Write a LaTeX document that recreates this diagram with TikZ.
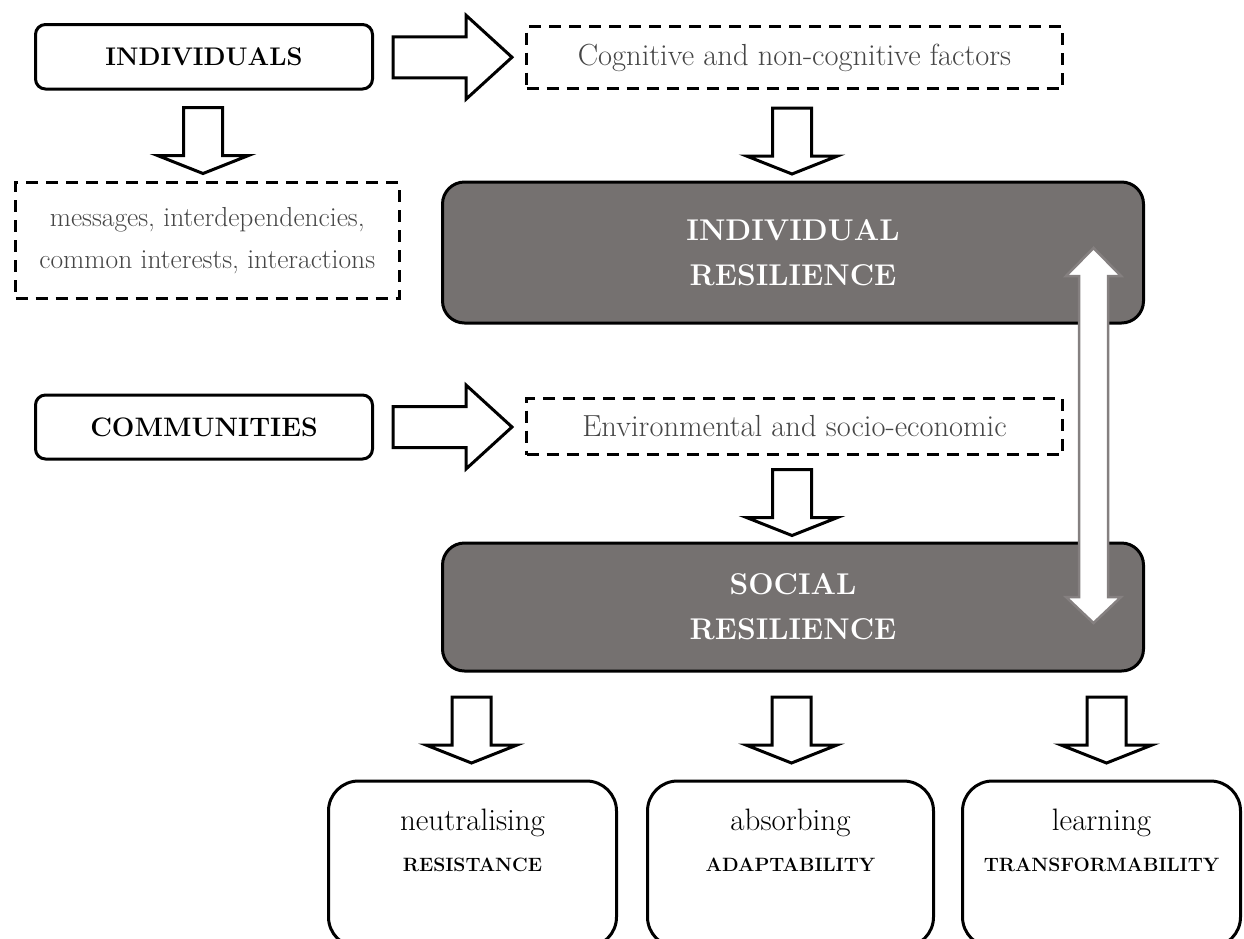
\documentclass[tikz,border=0pt]{standalone}
\usepackage{fontspec}
\usetikzlibrary{calc}
\definecolor{darkbox}{HTML}{757170}
\definecolor{graytext}{HTML}{454545}
\definecolor{arrowgray}{HTML}{858080}
\tikzset{
  solidbox/.style={draw=black, line width=3pt, rounded corners=10pt, fill=white, inner sep=0pt, text=black},
  dashbox/.style={draw=black, line width=3pt, dash pattern=on 12pt off 8pt, fill=white, inner sep=0pt, text=graytext, align=center},
  darkrbox/.style={draw=black, line width=3pt, rounded corners=22pt, fill=darkbox, text=white, inner sep=0pt, align=center,
     font=\bfseries\fontsize{30}{45}\selectfont},
  outbox/.style={draw=black, line width=3pt, rounded corners=30pt, fill=white, inner sep=0pt},
  blockarrow/.style={draw=black, line width=3pt, fill=white, line join=miter},
  lowtext/.style={font=\fontsize{31}{34}\selectfont, inner sep=0pt},
  captext/.style={font=\bfseries\fontsize{19.3}{22}\selectfont, inner sep=0pt},
  downarr/.pic={\draw[blockarrow] (-19.5,0) -- (19.5,0) -- (19.5,48) -- (45.5,48) -- (0,66) -- (-45.5,48) -- (-19.5,48) -- cycle;},
  rightarr/.pic={\draw[blockarrow] (0,-20.5) -- (73,-20.5) -- (73,-42) -- (119,0) -- (73,42) -- (73,20.5) -- (0,20.5) -- cycle;}
}
\begin{document}
\begin{tikzpicture}[x=1pt,y=-1pt]
\useasboundingbox (0,0) rectangle (1244,938);
\fill[white] (0,0) rectangle (1244,938);

% top row
\node[solidbox, minimum width=337pt, minimum height=64.5pt, font=\bfseries\fontsize{25.5}{28}\selectfont] (ind) at (204,56.75) {INDIVIDUALS};
\node[dashbox, minimum width=536pt, minimum height=62pt, font=\fontsize{30.5}{34}\selectfont] (cog) at (794.5,57.5) {Cognitive and non-cognitive factors};
\pic at ($(ind.east)+(19,0.5)$) {rightarr};

% messages
\node[dashbox, minimum width=383.5pt, minimum height=115.5pt, font=\fontsize{27.5}{42}\selectfont] (msg) at (207.25,240.25) {messages, interdependencies,\\common interests, interactions};
\pic at ($(ind.south)+(-1,17)$) {downarr};

% individual resilience
\node[darkrbox, minimum width=701pt, minimum height=141pt] (indres) at (793,252.5) {INDIVIDUAL\\RESILIENCE};
\pic at ($(cog.south)+(-2.5,18)$) {downarr};

% communities row
\node[solidbox, minimum width=337pt, minimum height=64pt, font=\bfseries\fontsize{26.7}{30}\selectfont] (comm) at (204,427) {COMMUNITIES};
\node[dashbox, minimum width=536pt, minimum height=56pt, font=\fontsize{30.5}{34}\selectfont] (env) at (794.5,426.5) {Environmental and socio-economic};
\pic at ($(comm.east)+(19,0)$) {rightarr};
\pic at ($(env.south)+(-2.5,13.5)$) {downarr};

% social resilience
\node[darkrbox, minimum width=701pt, minimum height=128pt] (socres) at (793,607) {SOCIAL\\RESILIENCE};

% double arrow between the two resilience boxes
\draw[fill=white, draw=arrowgray, line width=2.5pt, line join=miter]
  (1079,276) -- (1066,276) -- (1093.5,248) -- (1121,276) -- (1108,276) -- (1108,597)
  -- (1121,597) -- (1093.5,623) -- (1066,597) -- (1079,597) -- cycle;

% bottom arrows
\pic at (471.5,697) {downarr};
\pic at (791.5,697) {downarr};
\pic at (1106.5,697) {downarr};

% bottom boxes (cut by the lower edge)
\begin{scope}
\clip (0,0) rectangle (1244,938);
\node[outbox, minimum width=288pt, minimum height=166pt] (res) at (472.5,864) {};
\node[outbox, minimum width=286pt, minimum height=166pt] (ada) at (790.5,864) {};
\node[outbox, minimum width=278pt, minimum height=166pt] (tra) at (1101.5,864) {};
\end{scope}
\node[lowtext] (resA) at ($(res.north)+(0,43)$) {neutralising};
\node[captext] (resB) at ($(res.north)+(0,85)$) {RESISTANCE};
\node[lowtext] (adaA) at ($(ada.north)+(0,43)$) {absorbing};
\node[captext] (adaB) at ($(ada.north)+(0,85)$) {ADAPTABILITY};
\node[lowtext] (traA) at ($(tra.north)+(0,43)$) {learning};
\node[captext] (traB) at ($(tra.north)+(0,85)$) {TRANSFORMABILITY};
\end{tikzpicture}
\end{document}
